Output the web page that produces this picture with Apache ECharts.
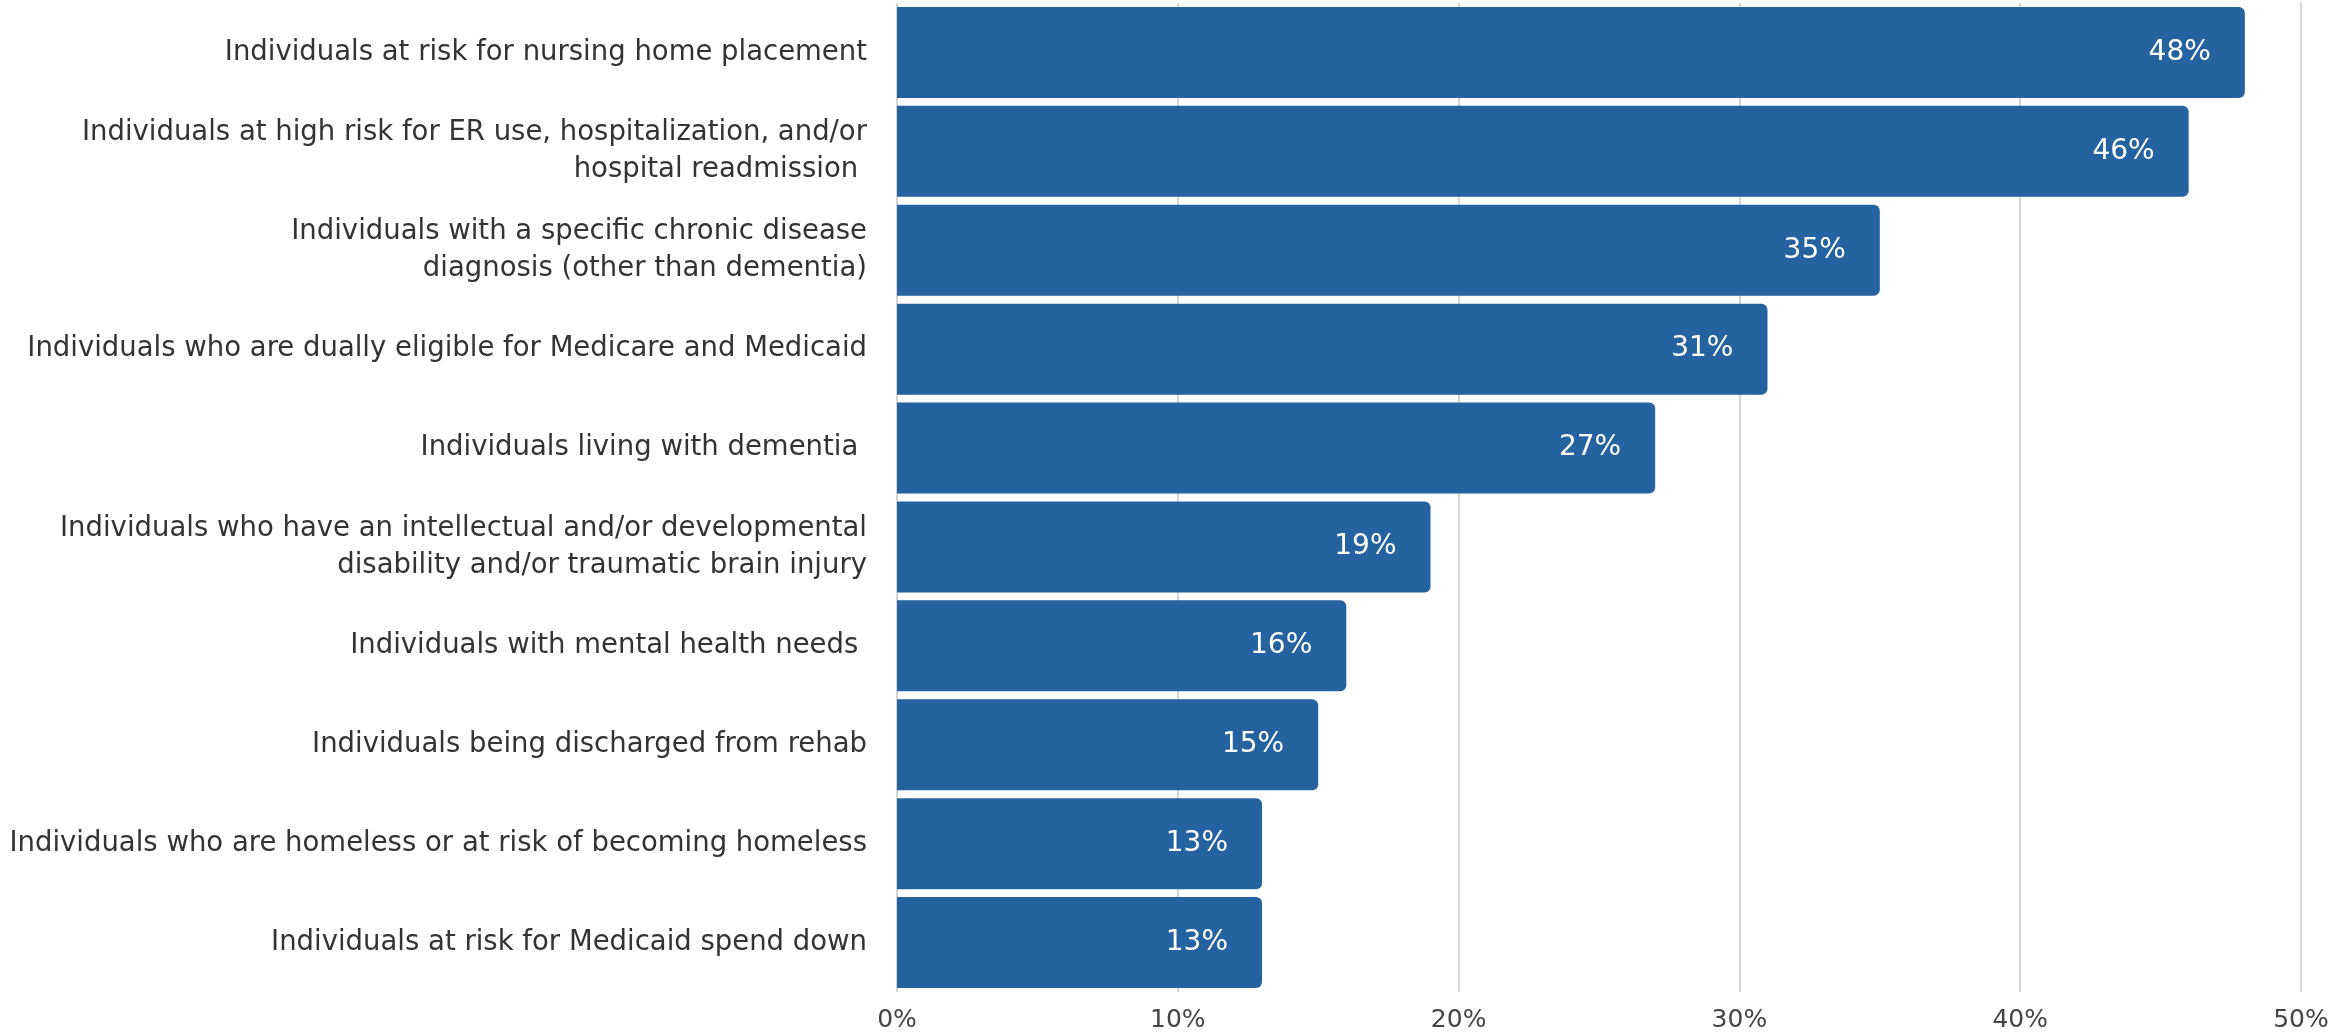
<!DOCTYPE html>
<html>
<head>
<meta charset="utf-8">
<script src="https://cdn.jsdelivr.net/npm/echarts@6/dist/echarts.min.js"></script>
<style>
html,body{margin:0;padding:0;background:#fff;}
#chart{width:2336px;height:1032px;}
</style>
</head>
<body>
<div id="chart"></div>
<script>
const categories = [
  "Individuals at risk for nursing home placement",
  "Individuals at high risk for ER use, hospitalization, and/or\nhospital readmission ",
  "Individuals with a specific chronic disease\ndiagnosis (other than dementia)",
  "Individuals who are dually eligible for Medicare and Medicaid",
  "Individuals living with dementia ",
  "Individuals who have an intellectual and/or developmental\ndisability and/or traumatic brain injury",
  "Individuals with mental health needs ",
  "Individuals being discharged from rehab",
  "Individuals who are homeless or at risk of becoming homeless",
  "Individuals at risk for Medicaid spend down"
];
const values = [48, 46, 35, 31, 27, 19, 16, 15, 13, 13];
const xTicks = [0, 10, 20, 30, 40, 50];

const chart = echarts.init(document.getElementById('chart'));
chart.setOption({
  animation: false,
  backgroundColor: '#ffffff',
  grid: { left: 897, right: 35, top: 3, bottom: 40, containLabel: false, outerBoundsMode: 'none' },
  xAxis: {
    type: 'value',
    min: xTicks[0],
    max: xTicks[xTicks.length - 1],
    interval: 10,
    axisLine: { show: false },
    axisTick: { show: false },
    splitLine: { show: true, lineStyle: { color: '#d4d4d4', width: 2 } },
    axisLabel: {
      formatter: v => v + '%',
      fontFamily: 'DejaVu Sans',
      fontSize: 25,
      color: '#444444',
      margin: 16
    }
  },
  yAxis: {
    type: 'category',
    data: categories,
    inverse: true,
    axisLine: { show: false },
    axisTick: { show: false },
    axisLabel: {
      fontFamily: 'DejaVu Sans',
      fontSize: 27.5,
      lineHeight: 37,
      color: '#333333',
      margin: 30,
      align: 'right'
    }
  },
  series: [{
    type: 'bar',
    data: values,
    barCategoryGap: '8%',
    itemStyle: { color: '#2563A0', borderRadius: [0, 6, 6, 0] },
    label: {
      show: true,
      position: 'insideRight',
      distance: 34,
      formatter: p => p.value + '%',
      color: '#ffffff',
      fontFamily: 'DejaVu Sans',
      fontSize: 28
    }
  }]
});
</script>
</body>
</html>
